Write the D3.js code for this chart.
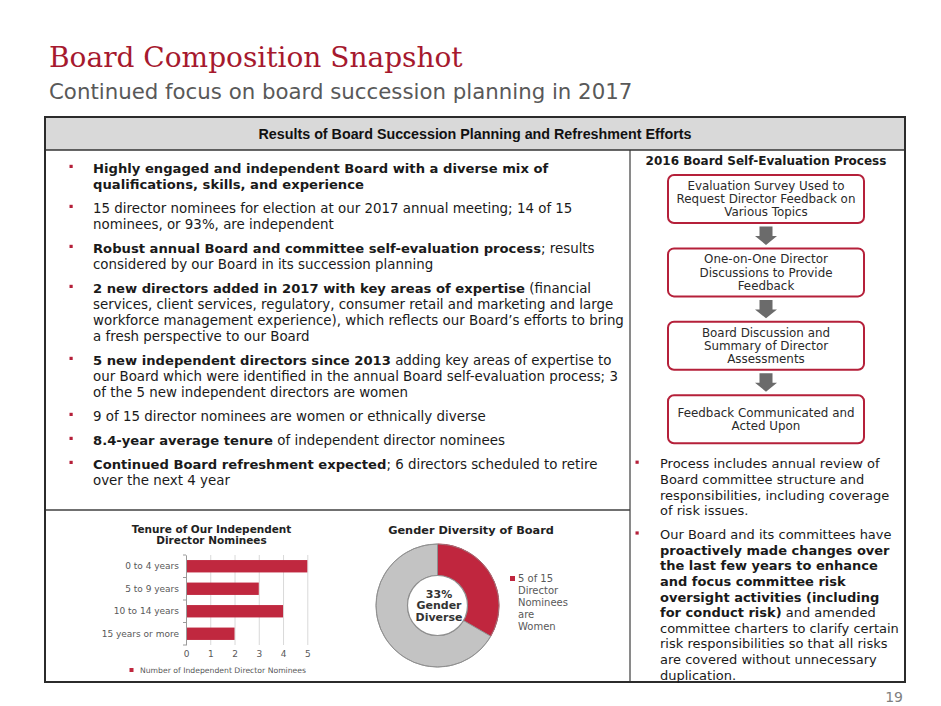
<!DOCTYPE html>
<html><head><meta charset="utf-8">
<script src="https://cdn.jsdelivr.net/npm/d3@7"></script>
<style>
html,body{margin:0;padding:0;background:#fff;}
svg{display:block;font-family:"DejaVu Sans",Verdana,sans-serif;}
</style></head>
<body>
<svg id="c" width="941" height="706"></svg>
<script>
// ---------- DATA ----------
const tenureCategories = ["0 to 4 years", "5 to 9 years", "10 to 14 years", "15 years or more"];
const tenureValues = [5, 3, 4, 2];
const tenureTicks = [0, 1, 2, 3, 4, 5];
const tenureSeriesName = "Number of Independent Director Nominees";

const genderCategories = ["Women", "Other"];
const genderValues = [5, 10];
const genderLegend = ["5 of 15", "Director", "Nominees", "are", "Women"];
const genderCenter = ["33%", "Gender", "Diverse"];

const flowSteps = [
  ["Evaluation Survey Used to", "Request Director Feedback on", "Various Topics"],
  ["One-on-One Director", "Discussions to Provide", "Feedback"],
  ["Board Discussion and", "Summary of Director", "Assessments"],
  ["Feedback Communicated and", "Acted Upon"]
];

const leftParagraphs = [
  [[["Highly engaged and independent Board with a diverse mix of", 1]], [["qualifications, skills, and experience", 1]]],
  [[["15 director nominees for election at our 2017 annual meeting; 14 of 15", 0]], [["nominees, or 93%, are independent", 0]]],
  [[["Robust annual Board and committee self-evaluation process", 1], ["; results", 0]], [["considered by our Board in its succession planning", 0]]],
  [[["2 new directors added in 2017 with key areas of expertise", 1], [" (financial", 0]],
   [["services, client services, regulatory, consumer retail and marketing and large", 0]],
   [["workforce management experience), which reflects our Board\u2019s efforts to bring", 0]],
   [["a fresh perspective to our Board", 0]]],
  [[["5 new independent directors since 2013", 1], [" adding key areas of expertise to", 0]],
   [["our Board which were identified in the annual Board self-evaluation process; 3", 0]],
   [["of the 5 new independent directors are women", 0]]],
  [[["9 of 15 director nominees are women or ethnically diverse", 0]]],
  [[["8.4-year average tenure", 1], [" of independent director nominees", 0]]],
  [[["Continued Board refreshment expected", 1], ["; 6 directors scheduled to retire", 0]], [["over the next 4 year", 0]]]
];

const rightParagraphs = [
  [[["Process includes annual review of", 0]], [["Board committee structure and", 0]],
   [["responsibilities, including coverage", 0]], [["of risk issues.", 0]]],
  [[["Our Board and its committees have", 0]], [["proactively made changes over", 1]],
   [["the last few years to enhance", 1]], [["and focus committee risk", 1]],
   [["oversight activities (including", 1]], [["for conduct risk)", 1], [" and amended", 0]],
   [["committee charters to clarify certain", 0]], [["risk responsibilities so that all risks", 0]],
   [["are covered without unnecessary", 0]], [["duplication.", 0]]]
];

// ---------- STYLE ----------
const RED = "#b5203a", BAR = "#c0283f", GRAY_TXT = "#595959", TXT = "#1a1a1a";
const svg = d3.select("#c");
svg.append("rect").attr("width", 941).attr("height", 706).attr("fill", "#fff");

// Title
svg.append("text").attr("x", 49).attr("y", 67)
  .attr("font-family", "'DejaVu Serif','Liberation Serif',Georgia,serif")
  .attr("font-size", 28).attr("fill", "#a6192e").text("Board Composition Snapshot");
svg.append("text").attr("x", 49).attr("y", 98.5)
  .attr("font-size", 21.3).attr("fill", "#595959").text("Continued focus on board succession planning in 2017");

// Page number
svg.append("text").attr("x", 903).attr("y", 702).attr("text-anchor", "end")
  .attr("font-size", 14).attr("fill", "#7f7f7f").text("19");

// Table frame
const box = {x0: 45, x1: 905, y0: 117, y1: 682, hy: 150, vx: 630, hx: 510};
svg.append("rect").attr("x", box.x0).attr("y", box.y0).attr("width", box.x1 - box.x0).attr("height", box.hy - box.y0)
  .attr("fill", "#d9d9d9");
svg.append("text").attr("x", (box.x0 + box.x1) / 2).attr("y", 134).attr("dy", "0.35em")
  .attr("text-anchor", "middle").attr("font-family", "'Liberation Sans',Arial,sans-serif")
  .attr("font-weight", "bold").attr("font-size", 14.3).attr("fill", "#111")
  .text("Results of Board Succession Planning and Refreshment Efforts");
svg.append("line").attr("x1", box.vx).attr("x2", box.vx).attr("y1", box.hy).attr("y2", box.y1)
  .attr("stroke", "#8a8a8a").attr("stroke-width", 2);
svg.append("line").attr("x1", box.x0).attr("x2", box.vx).attr("y1", box.hx).attr("y2", box.hx)
  .attr("stroke", "#404040").attr("stroke-width", 1.5);
svg.append("line").attr("x1", box.x0).attr("x2", box.x1).attr("y1", box.hy).attr("y2", box.hy)
  .attr("stroke", "#333").attr("stroke-width", 1.5);
svg.append("rect").attr("x", box.x0).attr("y", box.y0).attr("width", box.x1 - box.x0).attr("height", box.y1 - box.y0)
  .attr("fill", "none").attr("stroke", "#2b2b2b").attr("stroke-width", 2);

// Bulleted paragraphs
function drawParagraphs(paras, bx, tx, y0, lh, gap, sizeReg, sizeBold) {
  let y = y0;
  const g = svg.append("g");
  paras.forEach(p => {
    g.append("rect").attr("x", bx).attr("y", y - 2.2).attr("width", 3.2).attr("height", 3.2).attr("fill", RED);
    p.forEach(line => {
      const t = g.append("text").attr("x", tx).attr("y", y).attr("dy", "0.35em")
        .attr("fill", TXT).style("white-space", "pre");
      line.forEach(seg => {
        t.append("tspan").attr("font-weight", seg[1] ? "bold" : "normal")
          .attr("font-size", seg[1] ? sizeBold : sizeReg).text(seg[0]);
      });
      y += lh;
    });
    y += gap - lh;
  });
}
drawParagraphs(leftParagraphs, 69.5, 93, 167, 16, 24, 13.4, 13.15);
drawParagraphs(rightParagraphs, 635.5, 660, 462.8, 15.6, 24, 13, 13);

// Flow chart
svg.append("text").attr("x", 766).attr("y", 161).attr("dy", "0.35em").attr("text-anchor", "middle")
  .attr("font-weight", "bold").attr("font-size", 12).attr("fill", TXT).text("2016 Board Self-Evaluation Process");
const flowY = d3.scaleLinear().domain([0, 1]).range([175, 248.4]);
const fx0 = 668, fw = 196, fh = 48, fcx = fx0 + fw / 2;
const steps = svg.append("g").selectAll("g").data(flowSteps).join("g")
  .attr("transform", (d, i) => `translate(0,${flowY(i)})`);
steps.append("rect").attr("x", fx0).attr("y", 0).attr("width", fw).attr("height", fh)
  .attr("rx", 6).attr("fill", "#fff").attr("stroke", RED).attr("stroke-width", 2);
steps.each(function(d) {
  const g = d3.select(this);
  d.forEach((ln, j) => {
    g.append("text").attr("x", fcx).attr("y", fh / 2 + (j - (d.length - 1) / 2) * 13.2).attr("dy", "0.35em")
      .attr("text-anchor", "middle").attr("font-size", 11.9).attr("fill", "#2a2a2a").text(ln);
  });
});
// arrows
svg.append("g").selectAll("path").data(flowSteps.slice(1)).join("path")
  .attr("fill", "#6b6b6b")
  .attr("d", (d, i) => {
    const top = flowY(i) + fh + 3.5, bot = flowY(i + 1) - 3.5, mid = top + (bot - top) * 0.52;
    return `M${fcx - 6.5},${top}H${fcx + 6.5}V${mid}H${fcx + 11}L${fcx},${bot}L${fcx - 11},${mid}H${fcx - 6.5}Z`;
  });

// ---------- Tenure bar chart ----------
const bc = svg.append("g");
bc.append("text").attr("x", 211.5).attr("y", 529).attr("dy", "0.35em").attr("text-anchor", "middle")
  .attr("font-weight", "bold").attr("font-size", 10.5).attr("fill", "#222").text("Tenure of Our Independent");
bc.append("text").attr("x", 211.5).attr("y", 540.5).attr("dy", "0.35em").attr("text-anchor", "middle")
  .attr("font-weight", "bold").attr("font-size", 10.5).attr("fill", "#222").text("Director Nominees");
const bx = d3.scaleLinear().domain([0, 5]).range([186, 307.3]);
const by = d3.scaleBand().domain(tenureCategories).range([555, 645]).paddingInner(0.45).paddingOuter(0.225);
// gridlines + x labels
const xAxis = bc.append("g").attr("transform", "translate(0,645)")
  .call(d3.axisBottom(bx).tickValues(tenureTicks).tickFormat(d3.format("d")).tickSize(-90).tickPadding(6));
xAxis.select(".domain").remove();
xAxis.selectAll(".tick line").attr("stroke", "#d9d9d9");
xAxis.selectAll(".tick text").attr("font-family", "'DejaVu Sans',Verdana,sans-serif").attr("font-size", 9).attr("fill", GRAY_TXT);
// bars
bc.append("g").selectAll("rect").data(tenureValues).join("rect")
  .attr("x", bx(0)).attr("y", (d, i) => by(tenureCategories[i]))
  .attr("width", d => bx(d) - bx(0)).attr("height", by.bandwidth()).attr("fill", BAR);
// y axis
const yAxis = bc.append("g").attr("transform", `translate(${bx(0)},0)`)
  .call(d3.axisLeft(by).tickSize(0).tickPadding(7));
yAxis.select(".domain").attr("stroke", "#9a9a9a");
yAxis.selectAll(".tick text").attr("font-family", "'DejaVu Sans',Verdana,sans-serif").attr("font-size", 9).attr("fill", GRAY_TXT);
const bounds = d3.range(tenureCategories.length + 1).map(i => 555 + i * by.step());
bc.append("g").selectAll("line").data(bounds).join("line")
  .attr("x1", bx(0) - 3).attr("x2", bx(0)).attr("y1", d => d).attr("y2", d => d).attr("stroke", "#9a9a9a");
// legend
bc.append("rect").attr("x", 129.5).attr("y", 668).attr("width", 4).attr("height", 4).attr("fill", BAR);
bc.append("text").attr("x", 140).attr("y", 670).attr("dy", "0.35em").attr("font-size", 7.7).attr("fill", GRAY_TXT)
  .text(tenureSeriesName);

// ---------- Gender donut ----------
const dc = svg.append("g");
dc.append("text").attr("x", 471).attr("y", 530).attr("dy", "0.35em").attr("text-anchor", "middle")
  .attr("font-weight", "bold").attr("font-size", 11.3).attr("fill", "#222").text("Gender Diversity of Board");
const cx = 437.5, cy = 605.5;
const pie = d3.pie().sort(null).value(d => d);
const arc = d3.arc().innerRadius(30).outerRadius(61.5);
const dg = dc.append("g").attr("transform", `translate(${cx},${cy})`);
dg.selectAll("path").data(pie(genderValues)).join("path")
  .attr("d", arc).attr("fill", (d, i) => i === 0 ? "#c0263e" : "#c3c3c3")
  .attr("stroke", (d, i) => i === 0 ? "#c0263e" : "#8f8f8f").attr("stroke-width", 1);
dg.append("circle").attr("r", 61.5).attr("fill", "none").attr("stroke", "#8f8f8f").attr("stroke-width", 1).attr("opacity", 0.7);
dg.append("circle").attr("r", 30).attr("fill", "#fff").attr("stroke", "#8f8f8f").attr("stroke-width", 1.2);
genderCenter.forEach((t, i) => {
  dg.append("text").attr("x", 1.5).attr("y", (i - 1) * 11.8).attr("dy", "0.35em").attr("text-anchor", "middle")
    .attr("font-weight", "bold").attr("font-size", 11).attr("fill", "#333").text(t);
});
dc.append("rect").attr("x", 510).attr("y", 576).attr("width", 5).attr("height", 5).attr("fill", "#c0263e");
genderLegend.forEach((t, i) => {
  dc.append("text").attr("x", 518).attr("y", 578.5 + i * 12).attr("dy", "0.35em")
    .attr("font-size", 10).attr("fill", GRAY_TXT).text(t);
});
</script>
</body></html>
